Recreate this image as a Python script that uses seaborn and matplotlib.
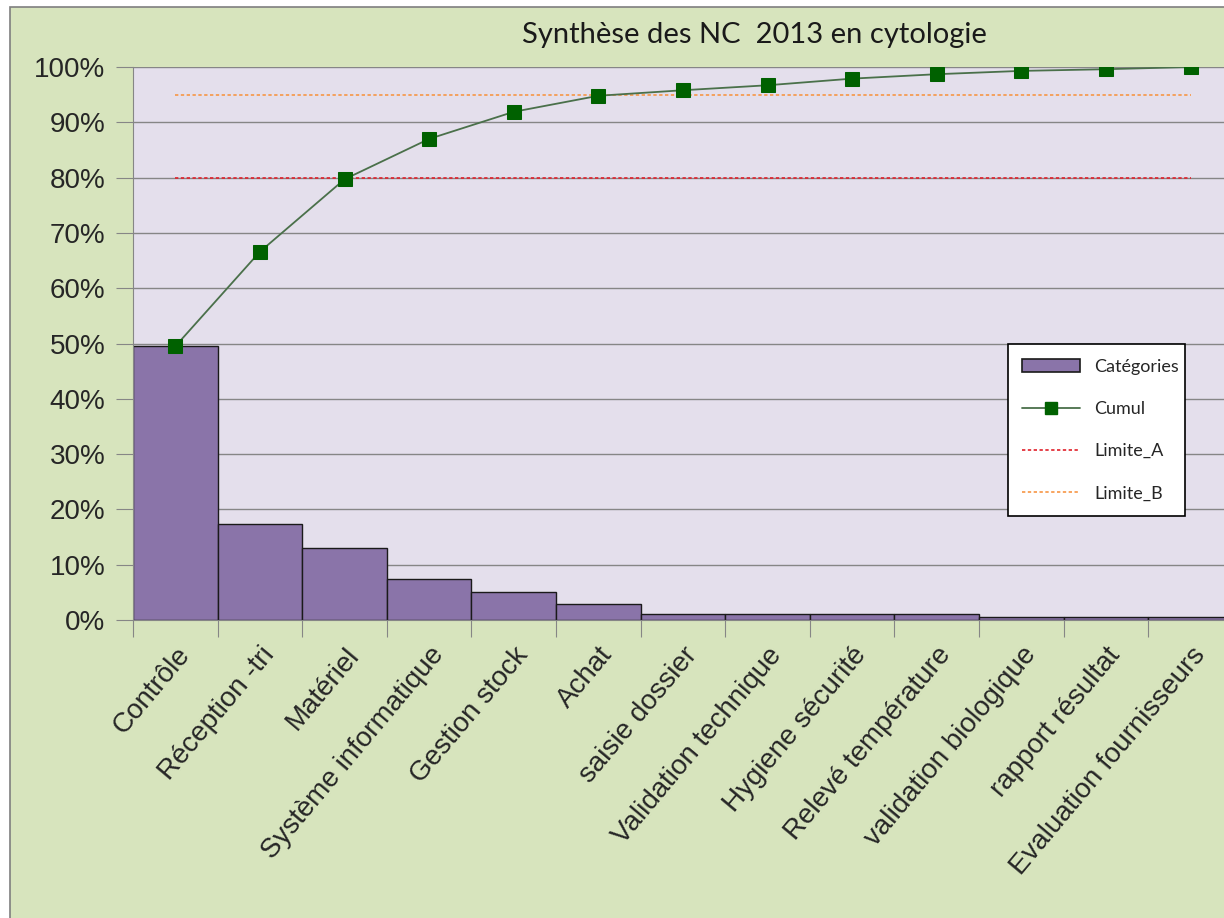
import numpy as np
import pandas as pd
import seaborn as sns
import matplotlib.pyplot as plt
from matplotlib.patches import Rectangle, Patch
from matplotlib.lines import Line2D
from matplotlib.ticker import PercentFormatter, MultipleLocator

categories = ['Contrôle', 'Réception -tri', 'Matériel', 'Système informatique',
              'Gestion stock', 'Achat', 'saisie dossier', 'Validation technique',
              'Hygiene sécurité', 'Relevé température', 'validation biologique',
              'rapport résultat', 'Evaluation fournisseurs']
share = [0.495, 0.173, 0.130, 0.074, 0.050, 0.029, 0.011, 0.011, 0.011, 0.011,
         0.005, 0.005, 0.005]
cumul = [0.495, 0.666, 0.797, 0.870, 0.919, 0.948, 0.958, 0.967, 0.979, 0.987,
         0.993, 0.996, 1.000]
limite_a = 0.80
limite_b = 0.95

df = pd.DataFrame({'cat': categories, 'share': share, 'cumul': cumul})
df['pos'] = np.arange(len(df))

sns.set_style('white')
plt.rcParams['font.family'] = ['Liberation Sans', 'DejaVu Sans']

fig = plt.figure(figsize=(12.24, 9.18), dpi=100)
fig.patch.set_facecolor('white')
fig.add_artist(Rectangle((0.0082, -0.01), 1.0, 1.0024, transform=fig.transFigure,
                         facecolor='#D7E4BD', edgecolor='#7F7F7F', lw=1.2, zorder=-10))

ax = fig.add_axes([0.1087, 0.3246, 0.8985, 0.6024])
ax.set_facecolor('#E4DFEC')

sns.barplot(data=df, x='cat', y='share', color='#8A74A9', saturation=1, width=1,
            edgecolor='#1a1a1a', linewidth=1.0, ax=ax, zorder=2)
sns.lineplot(data=df, x='pos', y='cumul', color='#4A704A', lw=1.3, marker='s',
             markersize=10, markerfacecolor='#006100', markeredgecolor='#006100',
             ax=ax, zorder=4)
ax.plot(df['pos'], [limite_a] * len(df), color='#E0202A', ls=(0, (2, 1.5)), lw=1.2, zorder=3)
ax.plot(df['pos'], [limite_b] * len(df), color='#F79646', ls=(0, (2, 1.5)), lw=1.2, zorder=3)

ax.set_xlim(-0.5, len(df) - 0.5)
ax.set_ylim(0, 1.0)
ax.yaxis.set_major_locator(MultipleLocator(0.1))
ax.yaxis.set_major_formatter(PercentFormatter(1.0, decimals=0))
ax.grid(axis='y', color='#868686', lw=1.0, zorder=0)
ax.set_axisbelow(True)

for side in ['top', 'right']:
    ax.spines[side].set_visible(False)
ax.spines['left'].set_color('#868686')
ax.spines['bottom'].set_color('#868686')

ax.set_xticks(np.arange(len(df) + 1) - 0.5, minor=False)
ax.set_xticklabels([])
ax.set_xticks(df['pos'], minor=True)
ax.set_xticklabels(categories, minor=True, rotation=50, ha='right', va='top',
                   rotation_mode='anchor', fontsize=20)
ax.tick_params(axis='x', which='major', length=12, color='#868686', direction='out', bottom=True)
ax.tick_params(axis='x', which='minor', length=0, pad=16)
ax.tick_params(axis='y', length=12, color='#868686', direction='out', left=True,
               labelsize=20, pad=8)
ax.set_xlabel('')
ax.set_ylabel('')

fig.text(0.616, 0.962, 'Synthèse des NC  2013 en cytologie', ha='center', va='center',
         fontsize=21, family=['Lato', 'DejaVu Sans'], color='#1a1a1a')

handles = [Patch(facecolor='#8A74A9', edgecolor='#1a1a1a', lw=1.2),
           Line2D([], [], color='#4A704A', lw=1.3, marker='s', markersize=8,
                  markerfacecolor='#006100', markeredgecolor='#006100'),
           Line2D([], [], color='#E0202A', ls=(0, (2, 1.5)), lw=1.2),
           Line2D([], [], color='#F79646', ls=(0, (2, 1.5)), lw=1.2)]
leg = ax.legend(handles, ['Catégories', 'Cumul', 'Limite_A', 'Limite_B'],
                loc='lower left', bbox_to_anchor=(0.787, 0.172, 0.178, 0.33),
                mode='expand', frameon=True, fancybox=False, framealpha=1,
                edgecolor='black', facecolor='white', labelspacing=1.45,
                handlelength=3.2, borderpad=0.8, prop={'family': ['Lato', 'DejaVu Sans'], 'size': 13})
leg.get_frame().set_linewidth(1.2)

fig.savefig('out.png', dpi=100)
